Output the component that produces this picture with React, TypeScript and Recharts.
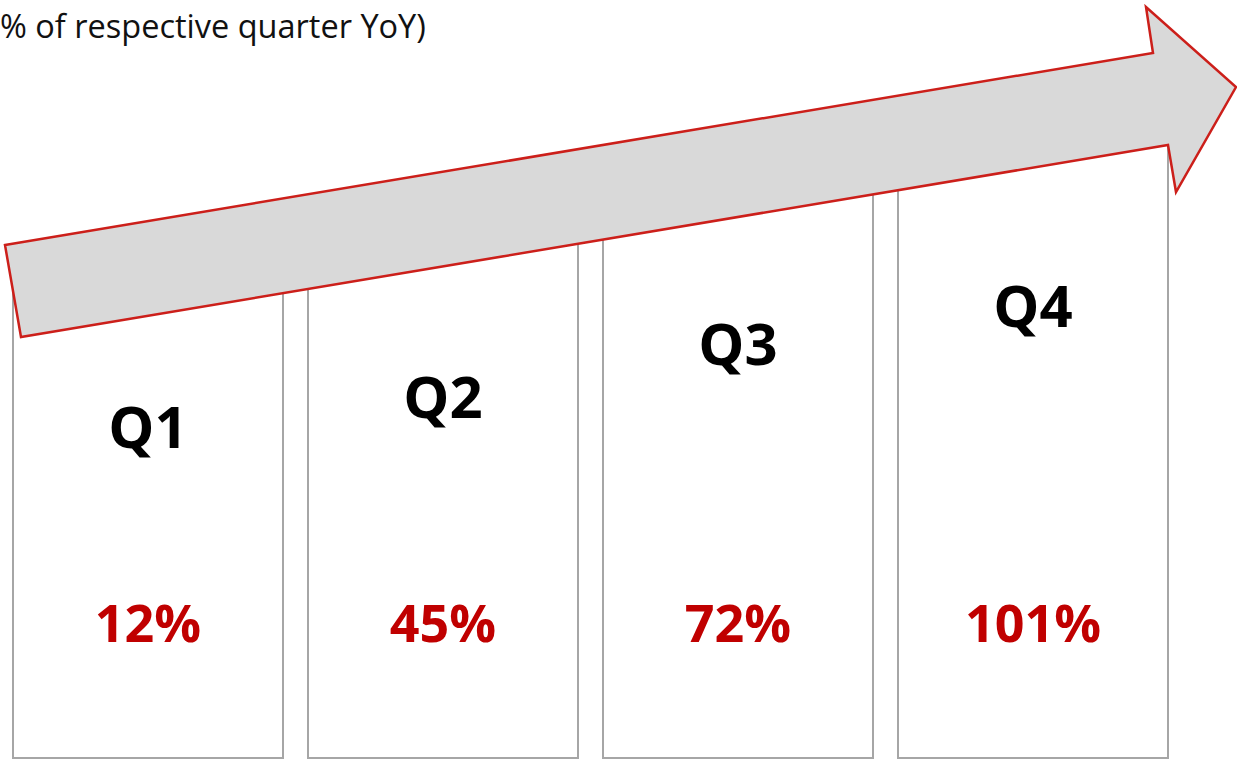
import React from 'react';
import { BarChart, Bar, XAxis, YAxis, LabelList, Customized } from 'recharts';

// ---- data ----
const quarters = ['Q1', 'Q2', 'Q3', 'Q4'];
const growthLabels = ['12%', '45%', '72%', '101%'];
// decorative column heights (arbitrary units)
const columnHeights = [50.0, 53.0, 58.3, 62.1];
const subtitle = '% of respective quarter YoY)';

const data = quarters.map((q, i) => ({
  quarter: q,
  height: columnHeights[i],
  growth: growthLabels[i],
}));

// ---- style ----
const W = 1237;
const H = 760;
const FONT = '"Open Sans", "Noto Sans", sans-serif';
const RED = '#c00000';
const ARROW_POINTS = '5,245 1153,53 1146,7 1236,87 1176,192 1168,145 21,337';

const Subtitle = () => (
  <text x={0} y={38} textAnchor="start" fontFamily={FONT} fontSize={32.5} fill="#111">
    {subtitle}
  </text>
);

const vb = (p: any) => {
  const v = p.viewBox || {};
  return {
    x: v.x ?? p.x,
    y: v.y ?? p.y,
    width: v.width ?? p.width,
    height: v.height ?? p.height,
  };
};

const renderQuarter = (p: any) => {
  const { x, y, width } = vb(p);
  return (
    <text
      x={x + width / 2}
      y={y + 190}
      textAnchor="middle"
      fontFamily={FONT}
      fontWeight={700}
      fontSize={58}
      fill="#000"
    >
      {p.value}
    </text>
  );
};

const renderGrowth = (p: any) => {
  const { x, y, width, height } = vb(p);
  return (
    <text
      x={x + width / 2}
      y={y + height - 116}
      textAnchor="middle"
      fontFamily={FONT}
      fontWeight={700}
      fontSize={52}
      fill={RED}
    >
      {p.value}
    </text>
  );
};

export default function App() {
  return (
    <div style={{ position: 'absolute', left: 0, top: 0, width: W, height: H, background: '#fff', overflow: 'hidden' }}>
      <BarChart
        width={W}
        height={H}
        data={data}
        margin={{ top: 0, right: 57, bottom: 2, left: 0 }}
      >
        <XAxis dataKey="quarter" hide />
        <YAxis type="number" domain={[0, 75.8]} hide />
        <Bar
          dataKey="height"
          fill="#ffffff"
          stroke="#a6a6a6"
          strokeWidth={2}
          barSize={270}
          isAnimationActive={false}
        >
          <LabelList dataKey="quarter" content={renderQuarter} />
          <LabelList dataKey="growth" content={renderGrowth} />
        </Bar>
        <Customized component={<Subtitle />} />
      </BarChart>
      {/* trend arrow drawn above the columns */}
      <svg
        width={W}
        height={H}
        style={{ position: 'absolute', left: 0, top: 0, pointerEvents: 'none' }}
      >
        <polygon
          points={ARROW_POINTS}
          fill="#d9d9d9"
          stroke="#cc1f1a"
          strokeWidth={2.5}
          strokeLinejoin="miter"
        />
      </svg>
    </div>
  );
}
